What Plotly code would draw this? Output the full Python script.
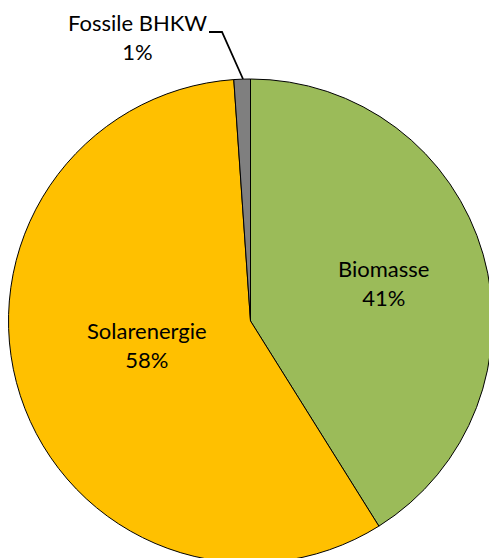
import plotly.graph_objects as go

labels = ["Biomasse", "Solarenergie", "Fossile BHKW"]
values = [41.1, 57.8, 1.1]
colors = ["#9BBB59", "#FFC000", "#7F7F7F"]

# figure slightly larger than the window; the page clips it like the reference
W, H = 494, 563
total = sum(values)
pcts = [round(v / total * 100) for v in values]

fig = go.Figure(go.Pie(
    labels=labels, values=values, sort=False, direction="clockwise", rotation=0,
    marker=dict(colors=colors, line=dict(color="#000000", width=1)),
    textinfo="none", hoverinfo="label+percent", showlegend=False,
    domain=dict(x=[8.5 / W, 492.5 / W], y=[0, (H - 79) / H]),
))

# label positions (pixels) -> paper coords
label_pos = [(383, 283), (147, 345), (137, 37)]
for lab, p, (px, py) in zip(labels, pcts, label_pos):
    fig.add_annotation(
        x=px / W, y=1 - py / H, xref="paper", yref="paper",
        text=f"{lab}<br>{p}%", showarrow=False, xanchor="center", yanchor="middle",
        font=dict(family="Lato", size=22, color="#000000"),
    )

# leader line for small slice
pts = [(209, 32), (222, 32), (243, 79)]
path = "M " + " L ".join(f"{x / W},{1 - y / H}" for x, y in pts)
fig.add_shape(type="path", path=path, xref="paper", yref="paper",
              line=dict(color="#000000", width=1.8))

fig.update_layout(width=W, height=H, margin=dict(l=0, r=0, t=0, b=0),
                  paper_bgcolor="white", plot_bgcolor="white")
fig.write_html("out.html", config={"displayModeBar": False},
               post_script="document.body.style.margin='0';document.body.style.overflow='hidden';")
